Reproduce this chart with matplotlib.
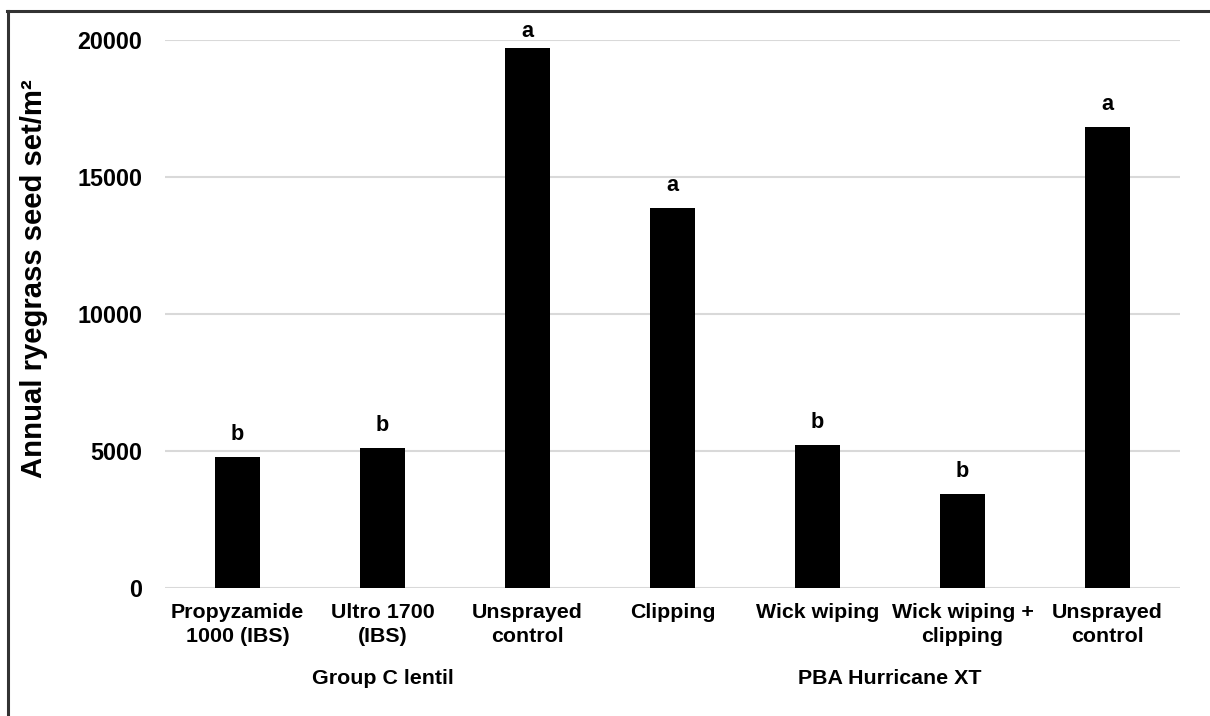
import matplotlib
matplotlib.use("Agg")
import matplotlib.pyplot as plt
from matplotlib.lines import Line2D

plt.rcParams["font.family"] = ["Liberation Sans", "DejaVu Sans"]
plt.rcParams["font.weight"] = "bold"

# Treatments, mean seed set and significance letters
categories = [
    "Propyzamide\n1000 (IBS)",
    "Ultro 1700\n(IBS)",
    "Unsprayed\ncontrol",
    "Clipping",
    "Wick wiping",
    "Wick wiping +\nclipping",
    "Unsprayed\ncontrol",
]
seed_set = [4780, 5110, 19710, 13870, 5220, 3430, 16830]
letters = ["b", "b", "a", "a", "b", "b", "a"]

# Crop groups: name and the indices of the treatments in each
groups = ["Group C lentil", "PBA Hurricane XT"]
group_members = [[0, 1, 2], [3, 4, 5, 6]]

y_ticks = [0, 5000, 10000, 15000, 20000]
y_label = "Annual ryegrass seed set/m\u00b2"

W, H = 1210, 716
fig = plt.figure(figsize=(W / 100, H / 100), dpi=100)
ax = fig.add_axes([165 / W, 1 - 588 / H, (1180 - 165) / W, (588 - 40) / H])

x = list(range(len(categories)))
ax.bar(x, seed_set, width=0.31, color="black", zorder=3)

ax.set_xlim(-0.5, len(categories) - 0.5)
ax.set_ylim(0, 20000)
ax.set_yticks(y_ticks)
ax.set_yticklabels([str(t) for t in y_ticks], fontsize=16.8, fontweight="bold")
ax.set_xticks(x)
ax.set_xticklabels(categories, fontsize=15.4, fontweight="bold", linespacing=1.38)
ax.tick_params(axis="y", length=0, pad=16.5)
ax.tick_params(axis="x", length=0, pad=10.5)
ax.grid(axis="y", color="#d9d9d9", linewidth=1.5, zorder=0)
for s in ax.spines.values():
    s.set_visible(False)

# Significance letters above the bars, kept within the plot area
pad = 620
cap = 20110
for xi, v, lt in zip(x, seed_set, letters):
    ax.text(xi, min(v + pad, cap), lt, ha="center", va="baseline",
            fontsize=15.6, fontweight="bold", clip_on=False)

# Group names centred under each block of treatments
for name, members in zip(groups, group_members):
    xc = (members[0] + members[-1]) / 2
    xf = fig.transFigure.inverted().transform(ax.transData.transform((xc, 0)))[0]
    fig.text(xf, 1 - 684.5 / H, name, ha="center", va="baseline",
             fontsize=15.4, fontweight="bold")

fig.text(34 / W, 1 - 278.5 / H, y_label, rotation=90, ha="center", va="center",
         fontsize=21.1, fontweight="bold")

# Frame lines along the left and top edges
fig.add_artist(Line2D([7.5 / W, 7.5 / W], [0, 1 - 10.5 / H], color="#333333",
                      linewidth=2.2, transform=fig.transFigure))
fig.add_artist(Line2D([6.5 / W, 1], [1 - 10.5 / H, 1 - 10.5 / H], color="#333333",
                      linewidth=2.2, transform=fig.transFigure))

fig.savefig("out.png", dpi=100, facecolor="white")
